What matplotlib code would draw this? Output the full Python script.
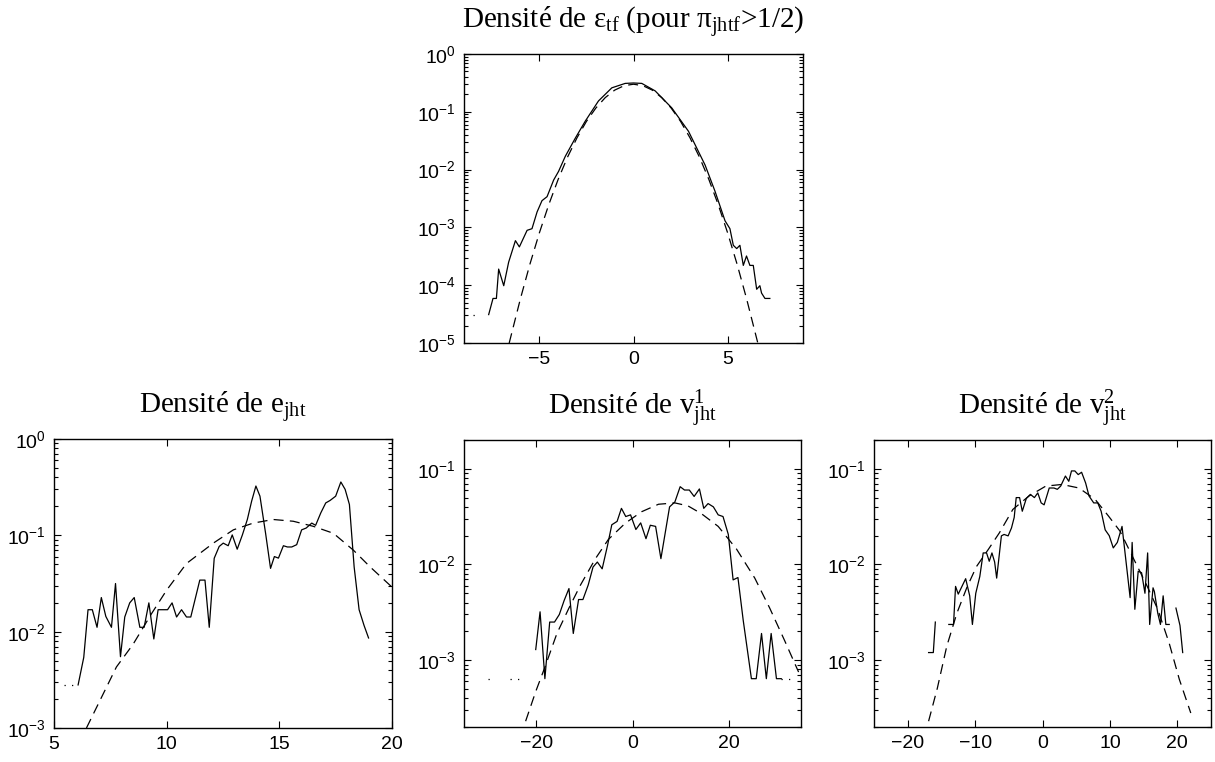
import numpy as np
import matplotlib
matplotlib.use('Agg')
import matplotlib.pyplot as plt
from matplotlib.ticker import LogLocator, NullFormatter, FixedLocator

plt.rcParams['font.family'] = ['Liberation Sans', 'DejaVu Sans']
plt.rcParams['mathtext.fontset'] = 'custom'
plt.rcParams['mathtext.rm'] = 'Liberation Serif'
plt.rcParams['mathtext.it'] = 'Liberation Serif'
plt.rcParams['mathtext.default'] = 'regular'

# --- panel 1 : epsilon_tf ---
eps_x = [-7.69, -7.46, -7.28, -7.16, -6.89, -6.63, -6.27, -6.06, -5.65, -5.39, -5.12, -4.86,
         -4.59, -4.24, -3.98, -3.62, -3.09, -2.56, -1.86, -1.15, -0.44, 0.0, 0.44, 1.15, 2.03,
         2.92, 3.8, 4.33, 4.86, 5.12, 5.3, 5.48, 5.65, 5.83, 6.0, 6.18, 6.36, 6.54, 6.71, 6.8,
         6.98, 7.24]
eps_y = [3.1e-5, 5.9e-5, 5.9e-5, 1.9e-4, 9.8e-5, 2.5e-4, 5.9e-4, 4.6e-4, 8.9e-4, 9.5e-4, 1.85e-3,
         2.9e-3, 3.4e-3, 6.6e-3, 9.3e-3, 0.017, 0.035, 0.069, 0.154, 0.26, 0.31, 0.315, 0.31, 0.23,
         0.117, 0.046, 0.012, 4.2e-3, 1.3e-3, 9.5e-4, 4.9e-4, 4.3e-4, 4.9e-4, 2.2e-4, 3.2e-4,
         2.2e-4, 2.2e-4, 8.5e-5, 9.8e-5, 7.3e-5, 5.9e-5, 5.9e-5]
eps_fit_x = [-6.6, -6.0, -5.5, -5.0, -4.5, -4.0, -3.5, -3.0, -2.5, -2.0, -1.5, -1.0, -0.5, 0.0,
             0.5, 1.0, 1.5, 2.0, 2.5, 3.0, 3.5, 4.0, 4.5, 5.0, 5.5, 6.0, 6.6]
eps_fit_y = [1.0e-5, 5.9e-5, 2.31e-4, 8.0e-4, 2.47e-3, 6.78e-3, 0.0165, 0.0355, 0.0682, 0.116,
             0.176, 0.237, 0.283, 0.30, 0.283, 0.237, 0.176, 0.116, 0.0682, 0.0355, 0.0165,
             6.78e-3, 2.47e-3, 8.0e-4, 2.31e-4, 5.9e-5, 1.0e-5]
eps_dot_x = [-8.5, -8.35]
eps_dot_y = [3.1e-5, 3.1e-5]

# --- panel 2 : e_jht ---
e_x = [6.07, 6.32, 6.51, 6.7, 6.91, 7.1, 7.3, 7.55, 7.73, 7.95, 8.14, 8.36, 8.56, 8.81, 9.0,
       9.21, 9.43, 9.62, 9.84, 10.04, 10.24, 10.44, 10.66, 10.88, 11.07, 11.47, 11.7, 11.89,
       12.11, 12.33, 12.51, 12.73, 12.91, 13.13, 13.36, 13.58, 13.77, 13.96, 14.14, 14.39,
       14.61, 14.78, 14.96, 15.18, 15.36, 15.55, 15.77, 15.99, 16.19, 16.44, 16.61, 16.84,
       17.06, 17.25, 17.5, 17.73, 17.92, 18.11, 18.32, 18.54, 18.76, 18.96]
e_y = [2.8e-3, 5.4e-3, 0.0169, 0.0169, 0.0111, 0.0226, 0.0144, 0.0111, 0.0316, 5.5e-3, 0.0142,
       0.0199, 0.0226, 0.0111, 0.0111, 0.0199, 8.4e-3, 0.0169, 0.0169, 0.0169, 0.0199, 0.0142,
       0.0169, 0.0142, 0.0142, 0.0343, 0.0343, 0.0111, 0.0578, 0.0766, 0.083, 0.078, 0.101,
       0.0718, 0.101, 0.146, 0.226, 0.325, 0.255, 0.105, 0.0454, 0.0602, 0.058, 0.078, 0.0757,
       0.0757, 0.08, 0.114, 0.119, 0.134, 0.127, 0.171, 0.217, 0.23, 0.255, 0.358, 0.3, 0.209,
       0.047, 0.0169, 0.0116, 8.6e-3]
e_fit_x = [6.44, 7.77, 8.51, 9.33, 10.0, 10.88, 12.07, 12.96, 13.84, 14.73, 15.62, 16.51, 17.4,
           18.29, 19.03, 20.0]
e_fit_y = [1.0e-3, 4.3e-3, 7.4e-3, 0.0154, 0.027, 0.051, 0.083, 0.114, 0.134, 0.146, 0.14,
           0.124, 0.105, 0.07, 0.047, 0.029]
e_dot_x = [5.45, 6.07]
e_dot_y = [2.8e-3, 2.8e-3]

# --- panel 3 : v1_jht ---
v1_x = [-20.1, -19.2, -18.2, -17.2, -16.2, -15.2, -14.2, -13.2, -12.3, -11.2, -10.3, -9.2, -8.2,
        -7.3, -6.3, -5.2, -4.3, -3.2, -2.3, -1.4, -0.4, 0.7, 1.7, 2.8, 3.7, 4.8, 5.9, 7.7, 8.8,
        9.9, 10.8, 11.8, 12.8, 13.9, 14.8, 15.7, 16.8, 17.8, 18.8, 19.9, 20.9, 21.9, 23.0, 24.7,
        25.7, 26.8, 27.8, 28.8, 29.9, 30.9]
v1_y = [1.29e-3, 3.2e-3, 6.4e-4, 2.5e-3, 2.5e-3, 3.0e-3, 4.2e-3, 5.6e-3, 1.9e-3, 4.3e-3, 4.3e-3,
        6.1e-3, 9.4e-3, 0.0106, 9.0e-3, 0.0157, 0.026, 0.0282, 0.0386, 0.0317, 0.033, 0.0232,
        0.0272, 0.0186, 0.0257, 0.025, 0.0115, 0.040, 0.045, 0.065, 0.060, 0.060, 0.0514, 0.0616,
        0.0386, 0.0433, 0.040, 0.033, 0.0317, 0.0206, 6.9e-3, 7.3e-3, 2.6e-3, 6.4e-4, 6.4e-4,
        1.9e-3, 6.4e-4, 1.9e-3, 6.4e-4, 6.4e-4]
v1_fit_x = [-22.2, -20.1, -18.1, -15.7, -13.2, -10.8, -7.7, -5.0, -1.5, 1.9, 5.4, 8.8, 11.5, 14.3,
            17.8, 21.6, 25.4, 28.5, 31.6, 34.5]
v1_fit_y = [2.3e-4, 4.7e-4, 8.7e-4, 1.9e-3, 3.5e-3, 6.1e-3, 0.0115, 0.0183, 0.027, 0.0356, 0.0426,
            0.044, 0.041, 0.034, 0.025, 0.0145, 7.2e-3, 3.5e-3, 1.6e-3, 7.5e-4]
v1_dot_x = [-30.1, -29.6, np.nan, -25.4, -22.9, np.nan, 30.9, 33.7]
v1_dot_y = [6.4e-4, 6.4e-4, np.nan, 6.4e-4, 6.4e-4, np.nan, 6.4e-4, 6.4e-4]

# --- panel 4 : v2_jht ---
v2_x = [-16.9, -16.2, -15.9, np.nan, -13.9, -13.2, -12.9, -12.5, -11.4, -10.8, -10.4, -9.9, -9.3,
        -8.8, -8.3, -7.9, -7.5, -7.1, -6.8, -6.1, -5.7, -5.1, -4.6, -4.2, -3.9, -3.4, -3.0, -2.4,
        -1.8, -1.2, -0.7, -0.2, 0.24, 1.0, 1.7, 2.2, 2.7, 3.4, 3.9, 4.3, 4.8, 5.3, 5.8, 6.4, 6.9,
        7.6, 8.2, 8.7, 9.3, 9.9, 10.5, 11.1, 11.8, 12.5, 13.0, 13.3, 13.7, 14.2, 14.7, 15.2, 15.6,
        15.9, 16.4, 16.6, 17.1, 17.5, 17.9, 18.3, 18.8, np.nan, 19.8, 20.4, 20.8]
v2_y = [1.2e-3, 1.2e-3, 2.5e-3, np.nan, 2.36e-3, 2.36e-3, 5.9e-3, 4.9e-3, 7.1e-3, 4.7e-3, 2.36e-3,
        5.0e-3, 7.5e-3, 0.0132, 0.0132, 0.0108, 0.0132, 0.0106, 7.2e-3, 0.0199, 0.0206, 0.0199,
        0.0241, 0.031, 0.05, 0.05, 0.036, 0.049, 0.054, 0.05, 0.056, 0.044, 0.042, 0.063, 0.063,
        0.061, 0.066, 0.084, 0.074, 0.095, 0.095, 0.087, 0.092, 0.071, 0.052, 0.044, 0.044, 0.036,
        0.023, 0.02, 0.0149, 0.017, 0.025, 9.2e-3, 4.5e-3, 0.017, 3.4e-3, 8.5e-3, 8.2e-3, 5.0e-3,
        0.0132, 2.36e-3, 5.7e-3, 5.2e-3, 3.1e-3, 2.36e-3, 4.7e-3, 2.36e-3, 2.36e-3, np.nan,
        3.5e-3, 2.3e-3, 1.2e-3]
v2_fit_x = [-16.9, -15.6, -14.2, -12.7, -11.2, -9.8, -8.0, -6.4, -4.4, -2.0, 0.5, 2.9, 5.4, 7.8,
            9.8, 11.5, 13.7, 15.4, 17.1, 18.8, 20.3, 22.0]
v2_fit_y = [2.3e-4, 5.1e-4, 1.4e-3, 3.1e-3, 5.8e-3, 9.5e-3, 0.0145, 0.0214, 0.0376, 0.052, 0.066,
            0.0686, 0.063, 0.048, 0.032, 0.0223, 0.0108, 6.2e-3, 3.4e-3, 1.5e-3, 6.3e-4, 2.8e-4]
v2_dot_x = [-14.95, -14.85]
v2_dot_y = [4.8e-3, 4.8e-3]

W, H = 1215, 762
fig = plt.figure(figsize=(W / 100, H / 100), dpi=100)


def box(x0, y0, x1, y1):
    # pixel box -> figure fraction
    return [x0 / W, 1 - y1 / H, (x1 - x0) / W, (y1 - y0) / H]


panels = [
    dict(pos=box(464, 54, 803, 343), x=eps_x, y=eps_y, fx=eps_fit_x, fy=eps_fit_y,
         dx=eps_dot_x, dy=eps_dot_y, xlim=(-9, 9), ylim=(1e-5, 1), xt=[-5, 0, 5],
         title='Densité de $\\mathrm{ε}_{\\mathrm{tf}}$ (pour $\\mathrm{π}_{\\mathrm{jhtf}}$>1/2)'),
    dict(pos=box(54, 439, 392, 728), x=e_x, y=e_y, fx=e_fit_x, fy=e_fit_y,
         dx=e_dot_x, dy=e_dot_y, xlim=(5, 20), ylim=(1e-3, 1), xt=[5, 10, 15, 20],
         title='Densité de $\\mathrm{e}_{\\mathrm{jht}}$'),
    dict(pos=box(464, 440, 801, 727), x=v1_x, y=v1_y, fx=v1_fit_x, fy=v1_fit_y,
         dx=v1_dot_x, dy=v1_dot_y, xlim=(-35, 35), ylim=(2e-4, 0.2), xt=[-20, 0, 20],
         title='Densité de $\\mathrm{v}^{1}_{\\mathrm{jht}}$'),
    dict(pos=box(874, 440, 1211, 727), x=v2_x, y=v2_y, fx=v2_fit_x, fy=v2_fit_y,
         dx=v2_dot_x, dy=v2_dot_y, xlim=(-25, 25), ylim=(2e-4, 0.2), xt=[-20, -10, 0, 10, 20],
         title='Densité de $\\mathrm{v}^{2}_{\\mathrm{jht}}$'),
]

for p in panels:
    ax = fig.add_axes(p['pos'])
    ax.plot(p['x'], p['y'], color='black', lw=0.9)
    ax.plot(p['fx'], p['fy'], color='black', lw=0.9, linestyle=(0, (8, 5)))
    ax.plot(p['dx'], p['dy'], color='black', lw=0.9, linestyle=(0, (1, 5)))
    ax.set_yscale('log')
    ax.set_xlim(p['xlim'])
    ax.set_ylim(p['ylim'])
    ax.xaxis.set_major_locator(FixedLocator(p['xt']))
    ax.yaxis.set_major_locator(LogLocator(base=10, numticks=10))
    ax.yaxis.set_minor_locator(LogLocator(base=10, subs=np.arange(2, 10), numticks=20))
    ax.yaxis.set_minor_formatter(NullFormatter())
    ax.tick_params(which='both', direction='in', top=True, right=True, labelsize=14)
    ax.tick_params(which='major', length=5, width=0.8, pad=6)
    ax.tick_params(which='minor', length=3, width=0.8)
    for s in ax.spines.values():
        s.set_linewidth(1.0)
    ax.set_title(p['title'], family='Liberation Serif', fontsize=21, pad=18)

fig.savefig('out.png', dpi=100)
